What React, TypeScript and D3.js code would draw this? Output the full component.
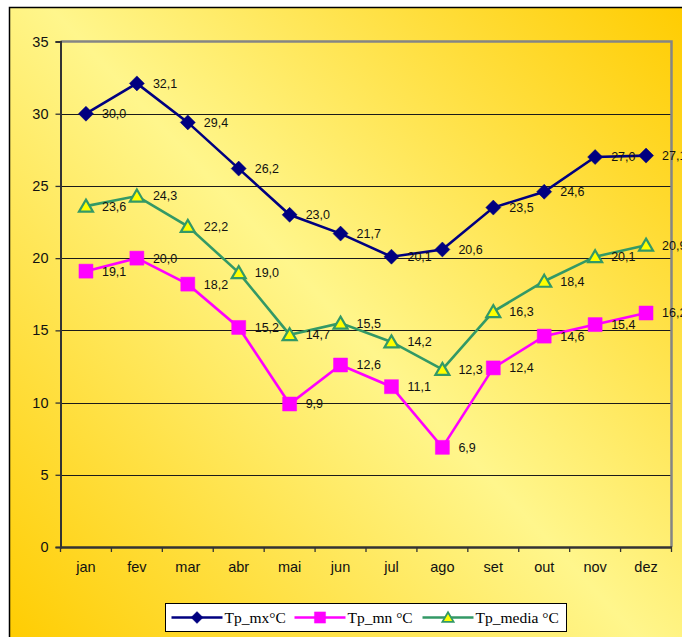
import { useEffect, useRef } from 'react';
import * as d3 from 'd3';

const months = ['jan', 'fev', 'mar', 'abr', 'mai', 'jun', 'jul', 'ago', 'set', 'out', 'nov', 'dez'];
const tpMax = [30.0, 32.1, 29.4, 26.2, 23.0, 21.7, 20.1, 20.6, 23.5, 24.6, 27.0, 27.1];
const tpMin = [19.1, 20.0, 18.2, 15.2, 9.9, 12.6, 11.1, 6.9, 12.4, 14.6, 15.4, 16.2];
const tpMedia = [23.6, 24.3, 22.2, 19.0, 14.7, 15.5, 14.2, 12.3, 16.3, 18.4, 20.1, 20.9];
const yTicks = [0, 5, 10, 15, 20, 25, 30, 35];
const seriesNames = ['Tp_mx°C', 'Tp_mn °C', 'Tp_media °C'];

const W = 682;
const H = 637;

export default function App() {
  const ref = useRef<SVGSVGElement>(null);

  useEffect(() => {
    const svg = d3.select(ref.current);
    svg.selectAll('*').remove();

    // background gradient (gold corners, pale yellow middle)
    const defs = svg.append('defs');
    const grad = defs
      .append('linearGradient')
      .attr('id', 'bg')
      .attr('gradientUnits', 'userSpaceOnUse')
      .attr('x1', 0)
      .attr('y1', H)
      .attr('x2', W)
      .attr('y2', 0);
    grad.append('stop').attr('offset', '0%').attr('stop-color', '#ffcc00');
    grad.append('stop').attr('offset', '50%').attr('stop-color', '#fff68c');
    grad.append('stop').attr('offset', '100%').attr('stop-color', '#ffcc00');

    svg.append('rect').attr('width', W).attr('height', H).attr('fill', '#ffffff');
    svg
      .append('rect')
      .attr('x', 9.5)
      .attr('y', 7.5)
      .attr('width', W + 20)
      .attr('height', H + 20)
      .attr('fill', 'url(#bg)')
      .attr('stroke', '#000')
      .attr('stroke-width', 1.5);

    const x = d3.scaleBand().domain(months).range([60.5, 671.5]);
    const y = d3.scaleLinear().domain([0, 35]).range([547, 41.5]);
    const cx = (m: string) => (x(m) as number) + x.bandwidth() / 2;

    // gridlines
    svg
      .append('g')
      .selectAll('line')
      .data(yTicks.filter(t => t > 0 && t < 35))
      .enter()
      .append('line')
      .attr('x1', 60.5)
      .attr('x2', 671.5)
      .attr('y1', d => Math.round(y(d)) + 0.5)
      .attr('y2', d => Math.round(y(d)) + 0.5)
      .attr('stroke', '#1a1a1a')
      .attr('stroke-width', 1);

    // plot frame top/right (gray)
    svg
      .append('path')
      .attr('d', `M60.5,41.5H671.5V547`)
      .attr('fill', 'none')
      .attr('stroke', '#858585')
      .attr('stroke-width', 2.5);

    // y axis
    const yAxis = d3.axisLeft(y).tickValues(yTicks).tickSize(5).tickPadding(7);
    const gy = svg.append('g').attr('transform', 'translate(60.5,0)').call(yAxis);
    gy.select('.domain').attr('stroke', '#333').attr('stroke-width', 2);
    gy.selectAll('.tick line').attr('stroke', '#333').attr('stroke-width', 1.3);
    gy.selectAll('.tick text')
      .attr('font-family', 'Liberation Sans, Arial, sans-serif')
      .attr('font-size', 14.5)
      .attr('fill', '#111');

    // x axis
    const xAxis = d3.axisBottom(x).tickSize(0).tickPadding(15);
    const gx = svg.append('g').attr('transform', 'translate(0,547)').call(xAxis);
    gx.select('.domain').attr('stroke', '#333').attr('stroke-width', 2.5);
    gx.selectAll('.tick text')
      .attr('font-family', 'Liberation Sans, Arial, sans-serif')
      .attr('font-size', 14.5)
      .attr('fill', '#111');
    svg
      .append('g')
      .selectAll('line')
      .data(months.concat(['end']))
      .enter()
      .append('line')
      .attr('x1', (d, i) => 60.5 + i * x.bandwidth())
      .attr('x2', (d, i) => 60.5 + i * x.bandwidth())
      .attr('y1', 547)
      .attr('y2', 552)
      .attr('stroke', '#333')
      .attr('stroke-width', 1.3);

    const series = [
      { name: seriesNames[0], values: tpMax, line: '#000080', fill: '#000080', stroke: '#000080', shape: 'diamond' },
      { name: seriesNames[1], values: tpMin, line: '#ff00ff', fill: '#ff00ff', stroke: '#ff00ff', shape: 'square' },
      { name: seriesNames[2], values: tpMedia, line: '#339966', fill: '#ffff00', stroke: '#339966', shape: 'triangle' },
    ];

    const marker = (shape: string) => {
      if (shape === 'diamond') return 'M0,-7.5L7.5,0L0,7.5L-7.5,0Z';
      if (shape === 'square') return 'M-7,-7H7V7H-7Z';
      return 'M0,-6.5L7,5.5H-7Z';
    };

    const line = d3
      .line<number>()
      .x((d, i) => cx(months[i]))
      .y(d => y(d));

    series.forEach(s => {
      svg
        .append('path')
        .datum(s.values)
        .attr('d', line)
        .attr('fill', 'none')
        .attr('stroke', s.line)
        .attr('stroke-width', 2.6);
    });

    series.forEach(s => {
      svg
        .append('g')
        .selectAll('path')
        .data(s.values)
        .enter()
        .append('path')
        .attr('d', marker(s.shape))
        .attr('transform', (d, i) => `translate(${cx(months[i])},${y(d)})`)
        .attr('fill', s.fill)
        .attr('stroke', s.stroke)
        .attr('stroke-width', s.shape === 'triangle' ? 2.2 : 0.5);
    });

    series.forEach(s => {
      svg
        .append('g')
        .selectAll('text')
        .data(s.values)
        .enter()
        .append('text')
        .attr('x', (d, i) => cx(months[i]) + 16)
        .attr('y', d => y(d))
        .attr('dy', '0.35em')
        .attr('font-family', 'Liberation Sans, Arial, sans-serif')
        .attr('font-size', 12.5)
        .attr('fill', '#111')
        .text(d => d.toFixed(1).replace('.', ','));
    });

    // legend
    const legend = svg.append('g').attr('transform', 'translate(165.5,603.5)');
    legend
      .append('rect')
      .attr('width', 401)
      .attr('height', 28)
      .attr('fill', '#fff')
      .attr('stroke', '#000')
      .attr('stroke-width', 1);
    const itemX = [6, 129, 257];
    const item = legend
      .selectAll('g')
      .data(series)
      .enter()
      .append('g')
      .attr('transform', (d, i) => `translate(${itemX[i]},14)`);
    item
      .append('line')
      .attr('x1', 0)
      .attr('x2', 51)
      .attr('stroke', d => d.line)
      .attr('stroke-width', 2.6);
    item
      .append('path')
      .attr('d', d => marker(d.shape))
      .attr('transform', 'translate(25.5,0) scale(0.8)')
      .attr('fill', d => d.fill)
      .attr('stroke', d => d.stroke)
      .attr('stroke-width', d => (d.shape === 'triangle' ? 2.2 : 0.5));
    item
      .append('text')
      .attr('x', 53)
      .attr('dy', '0.35em')
      .attr('font-family', 'Liberation Serif, Times New Roman, serif')
      .attr('font-size', 15.5)
      .attr('fill', '#000')
      .text(d => d.name);
  }, []);

  return (
    <svg
      ref={ref}
      width={W}
      height={H}
      style={{ position: 'absolute', left: 0, top: 0, display: 'block' }}
    />
  );
}
